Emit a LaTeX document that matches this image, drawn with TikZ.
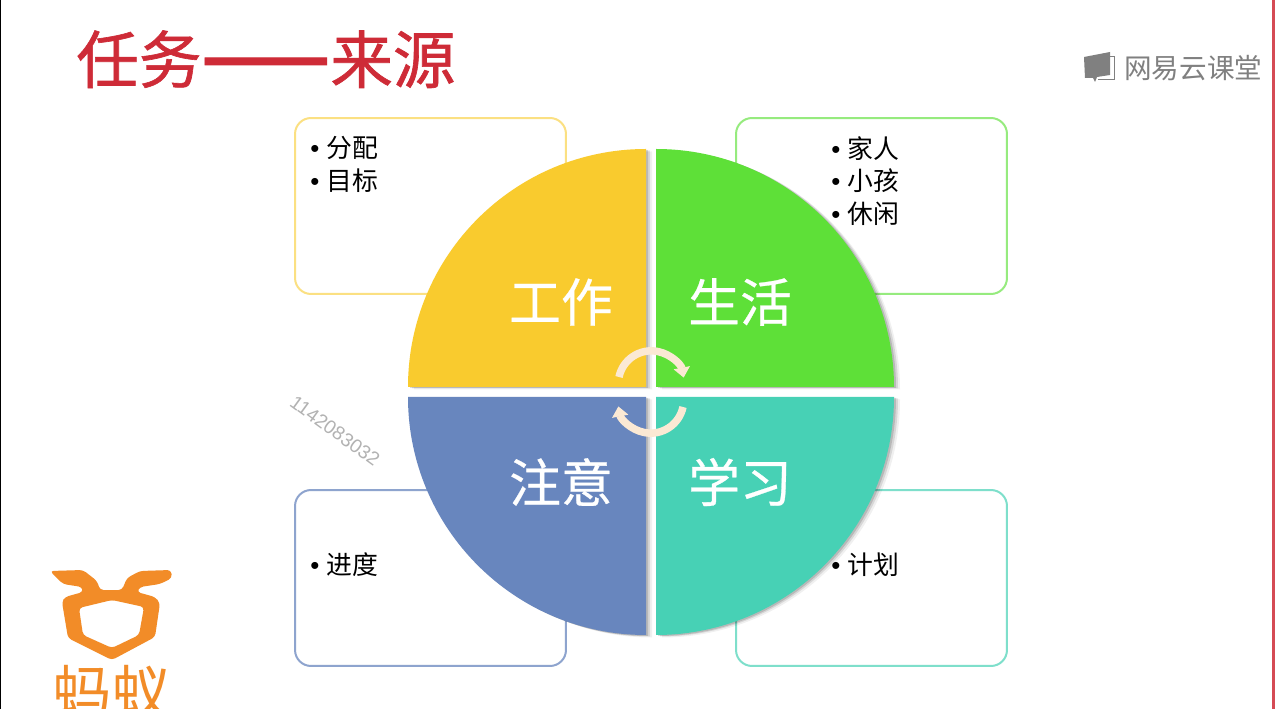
\documentclass[tikz,border=0pt]{standalone}
\usepackage{fontspec}
\usepackage{graphicx}
\usepackage{xcolor}
\setmainfont{Liberation Sans}
\newfontfamily\cjk{Noto Sans CJK SC}
\newfontfamily\cjkbold[FakeBold=0.5]{Noto Sans CJK SC}
\newfontfamily\cjkheavy[FakeBold=1]{Noto Sans CJK SC}
\usetikzlibrary{arrows.meta,shadows}

\definecolor{workyellow}{HTML}{F9CB2E}
\definecolor{lifegreen}{HTML}{5EE038}
\definecolor{notesblue}{HTML}{6886BE}
\definecolor{studyteal}{HTML}{47D1B5}
\definecolor{titlered}{HTML}{CE2B37}
\definecolor{antorange}{HTML}{F28C28}
\definecolor{cream}{HTML}{FBE9D4}

\newcommand{\itemdot}{{\rmfamily •}\kern 4.3pt}

\tikzset{
    itembox/.style={draw=#1, line width=0.04cm, fill=white, rounded corners=0.32cm},
    softshadow/.style={
        drop shadow={shadow xshift=0.12cm, shadow yshift=-0.05cm, opacity=0.06, fill=black},
        drop shadow={shadow xshift=0.08cm, shadow yshift=-0.03cm, opacity=0.10, fill=black},
        drop shadow={shadow xshift=0.04cm, shadow yshift=-0.02cm, opacity=0.14, fill=black}},
    quadlabel/.style={font=\cjkbold\fontsize{29.5}{29.5}\selectfont, text=white, inner sep=0pt},
    itemtext/.style={font=\cjk\fontsize{14.7}{18.6}\selectfont, text=black, align=left, anchor=north west, inner sep=0pt},
    turnarrow/.style={draw=cream, line width=0.15cm, -{Triangle[length=0.2cm, width=0.32cm]}}
}

\begin{document}
\begin{tikzpicture}[x=0.02cm, y=-0.02cm]
    \fill[white] (0, 0) rectangle (1275, 709);
    \useasboundingbox (0, 0) rectangle (1275, 709);
    \fill[black] (0, 0) rectangle (1.5, 709);
    \fill[titlered!85!white] (1272, 0) rectangle (1275, 709);

    \node[font=\cjkheavy\fontsize{35.6}{35.6}\selectfont, text=titlered, anchor=base west, inner sep=0pt] (title) at (76, 83) {任务\raisebox{-0.16em}{\scalebox{1.23}[1.8]{——}}来源};

    % boxes behind the circle
    \node[itembox=workyellow!60!white, minimum width=5.42cm, minimum height=3.52cm, inner sep=0pt] (workbox) at (430.5, 206) {};
    \node[itembox=lifegreen!65!white, minimum width=5.42cm, minimum height=3.52cm, inner sep=0pt] (lifebox) at (871.5, 206) {};
    \node[itembox=notesblue!75!white, minimum width=5.42cm, minimum height=3.52cm, inner sep=0pt] (notesbox) at (430.5, 578) {};
    \node[itembox=studyteal!70!white, minimum width=5.42cm, minimum height=3.52cm, inner sep=0pt] (studybox) at (871.5, 578) {};

    % four quarters
    \fill[workyellow, softshadow] (646, 387) -- (408, 387) arc[start angle=180, end angle=270, radius=238] -- cycle;
    \fill[lifegreen, softshadow] (656, 387) -- (656, 149) arc[start angle=270, end angle=360, radius=238] -- cycle;
    \fill[notesblue, softshadow] (646, 397) -- (646, 635) arc[start angle=90, end angle=180, radius=238] -- cycle;
    \fill[studyteal, softshadow] (656, 397) -- (894, 397) arc[start angle=0, end angle=90, radius=238] -- cycle;

    \node[quadlabel] (work) at (561, 302) {工作};
    \node[quadlabel] (life) at (740, 302) {生活};
    \node[quadlabel] (notes) at (561, 482) {注意};
    \node[quadlabel] (study) at (740, 482) {学习};

    \node[itemtext] (workitems) at (310, 136) {\itemdot 分配\\\itemdot 目标};
    \node[itemtext] (lifeitems) at (831, 136) {\itemdot 家人\\\itemdot 小孩\\\itemdot 休闲};
    \node[itemtext] (notesitems) at (310, 552) {\itemdot 进度};
    \node[itemtext] (studyitems) at (831, 552) {\itemdot 计划};

    % turning arrows
    \coordinate (upstart) at (619, 377);
    \coordinate (downstart) at (683, 407);
    \draw[turnarrow] (upstart) arc[start angle=192, end angle=349, radius=33];
    \draw[turnarrow] (downstart) arc[start angle=12, end angle=169, radius=33];

    \node[font=\fontsize{10.9}{10.9}\selectfont, text=black!30, rotate=-36, inner sep=0pt] (qq) at (335, 431) {1142083032};

    % ant logo
    \fill[antorange, even odd rule, rounded corners=0.07cm]
        (50, 571) -- (83, 570) -- (97, 581) -- (100, 590) -- (122, 590) -- (127, 578) -- (140, 571) -- (171, 570) -- (172, 578) -- (160, 584) -- (140, 587) -- (137, 592) -- (155, 597) -- (160, 603) -- (155, 637) -- (112, 660) -- (68, 638) -- (62, 602) -- (65, 597) -- (83, 592) -- (82, 587) -- (63, 584) -- cycle
        (79, 608) -- (112, 600) -- (144, 607) -- (139, 635) -- (112, 648) -- (83, 635) -- cycle;
    \node[font=\cjk\fontsize{33.5}{33.5}\selectfont, text=antorange, inner sep=0pt] (ant) at (111, 692) {蚂蚁};

    % netease logo
    \fill[black!50] (1084, 57) -- (1110, 52) -- (1110, 75) -- (1097, 77) -- (1095, 82) -- (1093, 78) -- (1085, 78) -- cycle;
    \draw[black!50, line width=0.02cm] (1110, 57) -- (1114, 57) -- (1114, 80) -- (1098, 80);
    \node[font=\cjk\fontsize{15.7}{15.7}\selectfont, text=black!50, anchor=west, inner sep=0pt] (netease) at (1124, 68) {网易云课堂};
\end{tikzpicture}
\end{document}
